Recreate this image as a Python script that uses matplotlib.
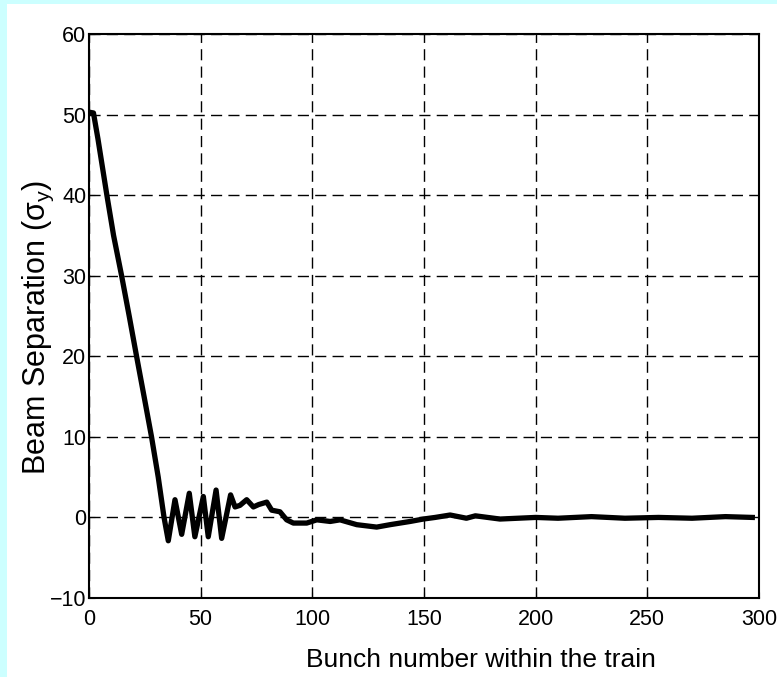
import matplotlib.pyplot as plt
from matplotlib.patches import Rectangle

# Valores
bunch = [0, 2, 4, 8, 11, 14.6, 18, 21.3, 25, 28, 31, 33.6, 35.5,
         38.5, 41.5, 44.9, 47.4, 51.2, 53.4, 56.9, 59.4, 63.4, 65.4,
         67.6, 70.6, 73.6, 76, 79.6, 81.8, 85.5, 88.5, 91.5, 97.5, 102,
         108, 112.4, 119.9, 128.8, 134.8, 143.8, 149.7, 155, 161.7, 169,
         173, 184, 200, 210, 225, 240, 255, 270, 285, 297]
separation = [50.3, 50.2, 47.0, 40.0, 35.0, 30.0, 25.0, 20.0, 14.5, 10.0,
              5.0, 0.0, -2.9,
              2.2, -2.1, 3.0, -2.4, 2.6, -2.4, 3.4, -2.6, 2.8, 1.3,
              1.5, 2.2, 1.3, 1.6, 1.9, 0.9, 0.7, -0.3, -0.7, -0.7, -0.3,
              -0.5, -0.3, -0.9, -1.2, -0.9, -0.5, -0.2, 0.0, 0.3, -0.1,
              0.2, -0.2, 0.0, -0.1, 0.1, -0.1, 0.0, -0.1, 0.1, 0.0]

xticks = [0, 50, 100, 150, 200, 250, 300]
yticks = [-10, 0, 10, 20, 30, 40, 50, 60]

plt.rcParams['font.family'] = ['Liberation Sans', 'DejaVu Sans']
plt.rcParams['mathtext.fontset'] = 'custom'
plt.rcParams['mathtext.rm'] = 'Liberation Sans'
plt.rcParams['mathtext.it'] = 'Liberation Sans'

fig = plt.figure(figsize=(7.77, 6.77), dpi=100, facecolor='#ccffff')
# fondo blanco dentro del marco celeste
fig.patches.append(Rectangle((7 / 777, 0), 1, 1 - 4 / 677, transform=fig.transFigure,
                             facecolor='white', edgecolor='none', zorder=-10))

ax = fig.add_axes([89 / 777, 1 - 598 / 677, 670 / 777, 564 / 677])
ax.set_zorder(1)
ax.plot(bunch, separation, color='black', lw=3.8, solid_joinstyle='round')

ax.set_xlim(0, 300)
ax.set_ylim(-10, 60)
ax.set_xticks(xticks)
ax.set_yticks(yticks)
ax.grid(True, color='black', linestyle=(0, (8, 4.5)), linewidth=1.0)
ax.tick_params(direction='in', length=4, labelsize=15.5, pad=2)
ax.tick_params(axis='x', pad=8)
for s in ax.spines.values():
    s.set_linewidth(1.5)

ax.set_xlabel('Bunch number within the train', fontsize=19)
ax.xaxis.set_label_coords(0.585, -0.11)
ax.xaxis.label.set_va('center')
ax.set_ylabel(r'Beam Separation ($\sigma_y$)', fontsize=22)
ax.yaxis.set_label_coords(-0.075, 0.48)
ax.yaxis.label.set_va('center')

fig.savefig('out.png', dpi=100, facecolor=fig.get_facecolor())
